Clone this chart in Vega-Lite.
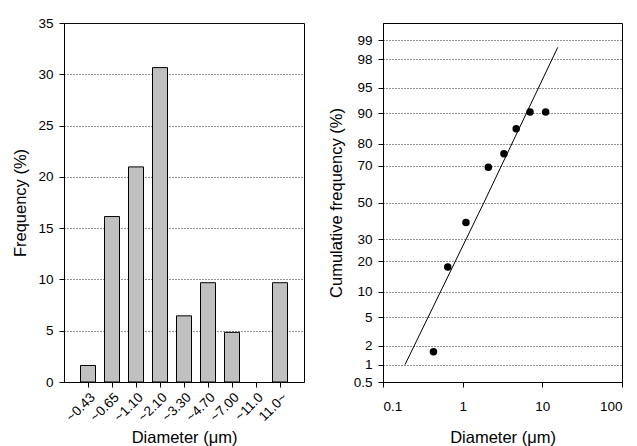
{
  "$schema": "https://vega.github.io/schema/vega-lite/v6.json",
  "padding": {"left": 12, "top": 15, "right": 5, "bottom": 0},
  "spacing": 22,
  "background": "white",
  "config": {
    "font": "Liberation Sans",
    "view": {"stroke": "black", "strokeWidth": 1},
    "axis": {
      "domainColor": "black",
      "tickColor": "black",
      "tickSize": 5,
      "labelFont": "Liberation Sans",
      "labelFontSize": 13.5,
      "labelColor": "black",
      "labelOverlap": false,
      "titleFont": "Liberation Sans",
      "titleFontSize": 16.5,
      "titleFontWeight": "normal",
      "titleColor": "black",
      "labelPadding": 6,
      "gridColor": "#222222",
      "gridDash": [1, 2],
      "gridWidth": 1
    }
  },
  "hconcat": [
    {
      "width": 240,
      "height": 359,
      "data": {
        "values": [
          {"bin": "~0.43", "freq": 1.61},
          {"bin": "~0.65", "freq": 16.13},
          {"bin": "~1.10", "freq": 20.97},
          {"bin": "~2.10", "freq": 30.65},
          {"bin": "~3.30", "freq": 6.45},
          {"bin": "~4.70", "freq": 9.68},
          {"bin": "~7.00", "freq": 4.84},
          {"bin": "~11.0", "freq": 0},
          {"bin": "11.0~", "freq": 9.68}
        ]
      },
      "mark": {"type": "bar", "fill": "#c0c0c0", "stroke": "black", "strokeWidth": 1},
      "encoding": {
        "x": {
          "field": "bin",
          "type": "nominal",
          "sort": null,
          "scale": {"paddingInner": 0.375, "paddingOuter": 0.6875},
          "axis": {
            "title": "Diameter (μm)",
            "labelAngle": -45,
            "labelPadding": 3,
            "titleY": 60,
            "titleBaseline": "alphabetic"
          }
        },
        "y": {
          "field": "freq",
          "type": "quantitative",
          "scale": {"domain": [0, 35], "nice": false},
          "axis": {
            "title": "Frequency (%)",
            "values": [0, 5, 10, 15, 20, 25, 30, 35],
            "tickCount": 20,
            "grid": true,
            "titlePadding": 9
          }
        },
        "strokeOpacity": {
          "condition": {"test": "datum.freq > 0", "value": 1},
          "value": 0
        }
      }
    },
    {
      "width": 239,
      "height": 359,
      "layer": [
        {
          "data": {
            "values": [
              {"d": 0.43, "cum": 1.61},
              {"d": 0.65, "cum": 17.74},
              {"d": 1.1, "cum": 38.71},
              {"d": 2.1, "cum": 69.35},
              {"d": 3.3, "cum": 75.81},
              {"d": 4.7, "cum": 85.48},
              {"d": 7.0, "cum": 90.32},
              {"d": 11.0, "cum": 90.32}
            ]
          },
          "transform": [{"calculate": "quantileNormal(datum.cum / 100)", "as": "z"}],
          "mark": {"type": "circle", "size": 56, "opacity": 1, "color": "black"},
          "encoding": {
            "x": {"field": "d", "type": "quantitative"},
            "y": {"field": "z", "type": "quantitative"}
          }
        },
        {
          "data": {
            "values": [
              {"d": 0.189, "cum": 1.0},
              {"d": 1.85, "cum": 50.0},
              {"d": 15.6, "cum": 98.7}
            ]
          },
          "transform": [{"calculate": "quantileNormal(datum.cum / 100)", "as": "z"}],
          "mark": {"type": "line", "color": "black", "strokeWidth": 1},
          "encoding": {
            "x": {
              "field": "d",
              "type": "quantitative",
              "scale": {"type": "log", "domain": [0.1, 100], "nice": false},
              "axis": {
                "title": "Diameter (μm)",
                "values": [0.1, 1, 10, 100],
                "tickCount": 10,
                "format": "~g",
                "grid": false,
                "labelPadding": 12,
                "titleY": 60,
                "titleBaseline": "alphabetic"
              }
            },
            "y": {
              "field": "z",
              "type": "quantitative",
              "scale": {"domain": [-2.5758, 2.5758], "nice": false, "zero": false},
              "axis": {
                "title": "Cumulative frequency (%)",
                "values": [-2.5758, -2.3263, -2.0537, -1.6449, -1.2816, -0.8416, -0.5244, 0, 0.5244, 0.8416, 1.2816, 1.6449, 2.0537, 2.3263],
                "tickCount": 30,
                "labelExpr": "format(cumulativeNormal(datum.value) * 100, '.2~r')",
                "grid": true,
                "titlePadding": 9
              }
            }
          }
        }
      ]
    }
  ]
}
